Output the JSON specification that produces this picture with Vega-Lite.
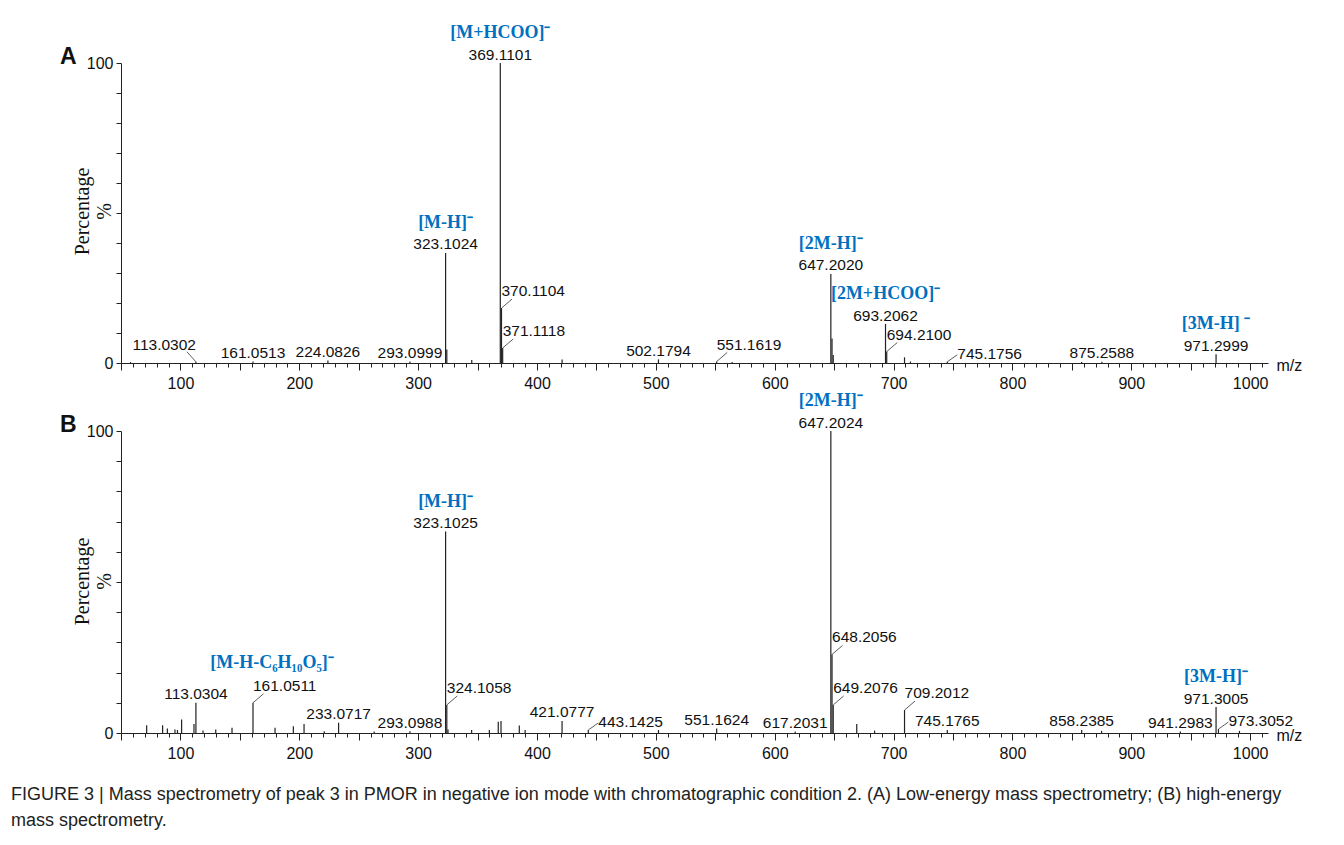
{
  "$schema": "https://vega.github.io/schema/vega-lite/v6.json",
  "padding": {"left": 11, "top": 24, "right": 5, "bottom": 5},
  "background": "white",
  "datasets": {
    "A": [
      {"mz": 58.0, "intensity": 0.3},
      {"mz": 113.0302, "intensity": 0.4, "label": "113.0302"},
      {"mz": 161.0513, "intensity": 0.5, "label": "161.0513"},
      {"mz": 224.0826, "intensity": 0.8, "label": "224.0826"},
      {"mz": 293.0999, "intensity": 0.5, "label": "293.0999"},
      {"mz": 323.1024, "intensity": 36.7, "label": "323.1024", "ion": "[M-H]⁻"},
      {"mz": 324.1058, "intensity": 4.5},
      {"mz": 345.1, "intensity": 1.0},
      {"mz": 369.1101, "intensity": 100, "label": "369.1101", "ion": "[M+HCOO]⁻"},
      {"mz": 370.1104, "intensity": 18.3, "label": "370.1104"},
      {"mz": 371.1118, "intensity": 5.0, "label": "371.1118"},
      {"mz": 421.1, "intensity": 1.2},
      {"mz": 502.1794, "intensity": 1.2, "label": "502.1794"},
      {"mz": 551.1619, "intensity": 0.5, "label": "551.1619"},
      {"mz": 564.2, "intensity": 0.3},
      {"mz": 647.202, "intensity": 29.7, "label": "647.2020", "ion": "[2M-H]⁻"},
      {"mz": 648.2, "intensity": 8.2},
      {"mz": 649.2, "intensity": 2.7},
      {"mz": 693.2062, "intensity": 13.0, "label": "693.2062", "ion": "[2M+HCOO]⁻"},
      {"mz": 694.21, "intensity": 3.8, "label": "694.2100"},
      {"mz": 709.2, "intensity": 1.9},
      {"mz": 714.2, "intensity": 0.5},
      {"mz": 745.1756, "intensity": 0.4, "label": "745.1756"},
      {"mz": 858.2, "intensity": 0.3},
      {"mz": 875.2588, "intensity": 0.4, "label": "875.2588"},
      {"mz": 971.2999, "intensity": 2.9, "label": "971.2999", "ion": "[3M-H] ⁻"}
    ],
    "B": [
      {"mz": 71.6, "intensity": 2.6},
      {"mz": 85.0, "intensity": 2.6},
      {"mz": 89.0, "intensity": 1.5},
      {"mz": 95.4, "intensity": 1.2},
      {"mz": 97.5, "intensity": 1.0},
      {"mz": 101.0, "intensity": 4.5},
      {"mz": 111.4, "intensity": 3.0},
      {"mz": 113.0304, "intensity": 10.0, "label": "113.0304"},
      {"mz": 119.0, "intensity": 0.8},
      {"mz": 129.7, "intensity": 1.2},
      {"mz": 143.4, "intensity": 1.7},
      {"mz": 161.0511, "intensity": 10.0, "label": "161.0511", "ion": "[M-H-C₆H₁₀O₅]⁻"},
      {"mz": 179.6, "intensity": 1.7},
      {"mz": 195.0, "intensity": 2.2},
      {"mz": 204.0, "intensity": 3.0},
      {"mz": 221.0, "intensity": 0.6},
      {"mz": 233.0717, "intensity": 3.4, "label": "233.0717"},
      {"mz": 263.0, "intensity": 0.5},
      {"mz": 293.0988, "intensity": 0.6, "label": "293.0988"},
      {"mz": 323.1025, "intensity": 66.7, "label": "323.1025", "ion": "[M-H]⁻"},
      {"mz": 324.1058, "intensity": 9.3, "label": "324.1058"},
      {"mz": 325.1, "intensity": 1.2},
      {"mz": 345.0, "intensity": 1.0},
      {"mz": 359.9, "intensity": 1.0},
      {"mz": 367.4, "intensity": 3.7},
      {"mz": 369.7, "intensity": 4.0},
      {"mz": 385.1, "intensity": 2.5},
      {"mz": 390.0, "intensity": 1.0},
      {"mz": 421.0777, "intensity": 4.0, "label": "421.0777"},
      {"mz": 443.1425, "intensity": 1.0, "label": "443.1425"},
      {"mz": 502.2, "intensity": 1.0},
      {"mz": 551.1624, "intensity": 1.5, "label": "551.1624"},
      {"mz": 617.2031, "intensity": 0.5, "label": "617.2031"},
      {"mz": 647.2024, "intensity": 100, "label": "647.2024", "ion": "[2M-H]⁻"},
      {"mz": 648.2056, "intensity": 26.0, "label": "648.2056"},
      {"mz": 649.2076, "intensity": 9.3, "label": "649.2076"},
      {"mz": 669.0, "intensity": 3.0},
      {"mz": 684.0, "intensity": 0.8},
      {"mz": 709.2012, "intensity": 7.6, "label": "709.2012"},
      {"mz": 745.1765, "intensity": 1.0, "label": "745.1765"},
      {"mz": 858.2385, "intensity": 1.0, "label": "858.2385"},
      {"mz": 875.0, "intensity": 0.7},
      {"mz": 941.2983, "intensity": 0.5, "label": "941.2983"},
      {"mz": 971.3005, "intensity": 8.6, "label": "971.3005", "ion": "[3M-H]⁻"},
      {"mz": 973.3052, "intensity": 1.3, "label": "973.3052"},
      {"mz": 991.0, "intensity": 0.7}
    ]
  },
  "title": {
    "text": ["FIGURE 3 | Mass spectrometry of peak 3 in PMOR in negative ion mode with chromatographic condition 2. (A) Low-energy mass spectrometry; (B) high-energy", "mass spectrometry."],
    "orient": "bottom", "anchor": "start", "frame": "bounds",
    "font": "Liberation Sans", "fontSize": 18, "fontWeight": "normal", "color": "#222",
    "lineHeight": 26, "dx": -49, "offset": 25
  },
  "bounds": "flush",
  "spacing": 68,
  "vconcat": [
    {
      "width": 1147, "height": 300,
      "data": {"name": "A"},
      "title": {"text": "A", "anchor": "start", "frame": "group", "orient": "top", "font": "Liberation Sans", "fontSize": 23, "fontWeight": "bold", "color": "#111", "dx": -61, "dy": 62, "baseline": "alphabetic", "offset": -1},
      "encoding": {
        "x": {"field": "mz", "type": "quantitative", "scale": {"domain": [50, 1015], "nice": false, "zero": false},
          "axis": {"values": [50,60,70,80,90,100,110,120,130,140,150,160,170,180,190,200,210,220,230,240,250,260,270,280,290,300,310,320,330,340,350,360,370,380,390,400,410,420,430,440,450,460,470,480,490,500,510,520,530,540,550,560,570,580,590,600,610,620,630,640,650,660,670,680,690,700,710,720,730,740,750,760,770,780,790,800,810,820,830,840,850,860,870,880,890,900,910,920,930,940,950,960,970,980,990,1000,1010],
            "format": "d",
            "labelExpr": "datum.value % 100 === 0 ? datum.label : ''",
            "tickSize": {"condition": {"test": "datum.value % 50 === 0", "value": 7}, "value": 4},
            "labelPadding": 5, "labelOverlap": false, "labelFlush": false,
            "title": "m/z", "titleX": 1155, "titleY": 2, "titleAlign": "left", "titleBaseline": "middle", "titleFontWeight": "normal", "titleFontSize": 16, "titleFont": "Liberation Sans", "titleColor": "#111"}},
        "y": {"field": "intensity", "type": "quantitative", "scale": {"domain": [0, 100], "nice": false},
          "axis": {"values": [0,10,20,30,40,50,60,70,80,90,100],
            "labelExpr": "datum.value === 0 || datum.value === 100 ? datum.label : ''",
            "tickSize": 5, "labelPadding": 3,
            "title": ["Percentage", "%"], "titleFont": "Liberation Serif", "titleFontSize": 20, "titleFontWeight": "normal", "titleColor": "#111",
            "titleLineHeight": 22, "titleX": -39, "titleY": 148, "titleAngle": -90, "titleAlign": "center", "titleBaseline": "middle"}}
      },
      "layer": [
        {"mark": {"type": "rule", "color": "#222", "strokeWidth": 1.2}, "encoding": {"y2": {"datum": 0}}},
        {"transform": [{"filter": {"field": "label", "oneOf": ["370.1104","371.1118","551.1619","694.2100","161.0511","324.1058","648.2056","649.2076","709.2012"]}}],
          "mark": {"type": "rule", "color": "#333", "strokeWidth": 0.8, "x2Offset": 10.5, "y2Offset": -9}, "encoding": {"x2": {"field": "mz"}, "y2": {"field": "intensity"}}},
        {"transform": [{"filter": {"field": "label", "oneOf": ["745.1756","443.1425","973.3052"]}}],
          "mark": {"type": "rule", "color": "#333", "strokeWidth": 0.8, "x2Offset": 10, "y2Offset": -7}, "encoding": {"x2": {"field": "mz"}, "y2": {"field": "intensity"}}},
        {"transform": [{"filter": {"field": "label", "oneOf": ["113.0302"]}}],
          "mark": {"type": "rule", "color": "#333", "strokeWidth": 0.8, "x2Offset": -9, "y2Offset": -10}, "encoding": {"x2": {"field": "mz"}, "y2": {"field": "intensity"}}},
        {"transform": [{"filter": "isValid(datum.label) && indexof(['370.1104','371.1118','551.1619','694.2100','161.0511','324.1058','648.2056','649.2076','709.2012','745.1756','443.1425','973.3052','113.0302'], datum.label) < 0"}],
          "mark": {"type": "text", "align": "center", "baseline": "alphabetic", "dy": -3.5, "font": "Liberation Sans", "fontSize": 15.5, "color": "#111"}, "encoding": {"text": {"field": "label", "type": "nominal"}}},
        {"transform": [{"filter": {"field": "label", "oneOf": ["370.1104","371.1118","551.1619","694.2100","161.0511","324.1058","648.2056","649.2076","709.2012"]}}],
          "mark": {"type": "text", "align": "left", "baseline": "alphabetic", "dx": 0, "dy": -12, "font": "Liberation Sans", "fontSize": 15.5, "color": "#111"}, "encoding": {"text": {"field": "label", "type": "nominal"}}},
        {"transform": [{"filter": {"field": "label", "oneOf": ["745.1756","443.1425","973.3052"]}}],
          "mark": {"type": "text", "align": "left", "baseline": "alphabetic", "dx": 10, "dy": -3, "font": "Liberation Sans", "fontSize": 15.5, "color": "#111"}, "encoding": {"text": {"field": "label", "type": "nominal"}}},
        {"transform": [{"filter": {"field": "label", "oneOf": ["113.0302"]}}],
          "mark": {"type": "text", "align": "right", "baseline": "alphabetic", "dx": 0, "dy": -12, "font": "Liberation Sans", "fontSize": 15.5, "color": "#111"}, "encoding": {"text": {"field": "label", "type": "nominal"}}},
        {"transform": [{"filter": "isValid(datum.ion) && datum.label !== '161.0511'"}],
          "mark": {"type": "text", "align": "center", "baseline": "alphabetic", "dy": -25, "font": "Liberation Serif", "fontSize": 18, "fontWeight": "bold", "color": "#0070c0"}, "encoding": {"text": {"field": "ion", "type": "nominal"}}},
        {"transform": [{"filter": "datum.label === '161.0511'"}],
          "mark": {"type": "text", "align": "center", "baseline": "alphabetic", "dx": 19, "dy": -35, "font": "Liberation Serif", "fontSize": 18, "fontWeight": "bold", "color": "#0070c0"}, "encoding": {"text": {"field": "ion", "type": "nominal"}}}
      ]
    },
    {
      "width": 1147, "height": 302,
      "data": {"name": "B"},
      "title": {"text": "B", "anchor": "start", "frame": "group", "orient": "top", "font": "Liberation Sans", "fontSize": 23, "fontWeight": "bold", "color": "#111", "dx": -61, "dy": 61.5, "baseline": "alphabetic", "offset": -1.5},
      "encoding": {
        "x": {"field": "mz", "type": "quantitative", "scale": {"domain": [50, 1015], "nice": false, "zero": false},
          "axis": {"values": [50,60,70,80,90,100,110,120,130,140,150,160,170,180,190,200,210,220,230,240,250,260,270,280,290,300,310,320,330,340,350,360,370,380,390,400,410,420,430,440,450,460,470,480,490,500,510,520,530,540,550,560,570,580,590,600,610,620,630,640,650,660,670,680,690,700,710,720,730,740,750,760,770,780,790,800,810,820,830,840,850,860,870,880,890,900,910,920,930,940,950,960,970,980,990,1000,1010],
            "format": "d",
            "labelExpr": "datum.value % 100 === 0 ? datum.label : ''",
            "tickSize": {"condition": {"test": "datum.value % 50 === 0", "value": 7}, "value": 4},
            "labelPadding": 5, "labelOverlap": false, "labelFlush": false,
            "title": "m/z", "titleX": 1155, "titleY": 2, "titleAlign": "left", "titleBaseline": "middle", "titleFontWeight": "normal", "titleFontSize": 16, "titleFont": "Liberation Sans", "titleColor": "#111"}},
        "y": {"field": "intensity", "type": "quantitative", "scale": {"domain": [0, 100], "nice": false},
          "axis": {"values": [0,10,20,30,40,50,60,70,80,90,100],
            "labelExpr": "datum.value === 0 || datum.value === 100 ? datum.label : ''",
            "tickSize": 5, "labelPadding": 3,
            "title": ["Percentage", "%"], "titleFont": "Liberation Serif", "titleFontSize": 20, "titleFontWeight": "normal", "titleColor": "#111",
            "titleLineHeight": 22, "titleX": -39, "titleY": 150, "titleAngle": -90, "titleAlign": "center", "titleBaseline": "middle"}}
      },
      "layer": [
        {"mark": {"type": "rule", "color": "#222", "strokeWidth": 1.2}, "encoding": {"y2": {"datum": 0}}},
        {"transform": [{"filter": {"field": "label", "oneOf": ["370.1104","371.1118","551.1619","694.2100","161.0511","324.1058","648.2056","649.2076","709.2012"]}}],
          "mark": {"type": "rule", "color": "#333", "strokeWidth": 0.8, "x2Offset": 10.5, "y2Offset": -9}, "encoding": {"x2": {"field": "mz"}, "y2": {"field": "intensity"}}},
        {"transform": [{"filter": {"field": "label", "oneOf": ["745.1756","443.1425","973.3052"]}}],
          "mark": {"type": "rule", "color": "#333", "strokeWidth": 0.8, "x2Offset": 10, "y2Offset": -7}, "encoding": {"x2": {"field": "mz"}, "y2": {"field": "intensity"}}},
        {"transform": [{"filter": "isValid(datum.label) && indexof(['370.1104','371.1118','551.1619','694.2100','161.0511','324.1058','648.2056','649.2076','709.2012','745.1756','443.1425','973.3052','113.0302'], datum.label) < 0"}],
          "mark": {"type": "text", "align": "center", "baseline": "alphabetic", "dy": -3.5, "font": "Liberation Sans", "fontSize": 15.5, "color": "#111"}, "encoding": {"text": {"field": "label", "type": "nominal"}}},
        {"transform": [{"filter": {"field": "label", "oneOf": ["370.1104","371.1118","551.1619","694.2100","161.0511","324.1058","648.2056","649.2076","709.2012"]}}],
          "mark": {"type": "text", "align": "left", "baseline": "alphabetic", "dx": 0, "dy": -12, "font": "Liberation Sans", "fontSize": 15.5, "color": "#111"}, "encoding": {"text": {"field": "label", "type": "nominal"}}},
        {"transform": [{"filter": {"field": "label", "oneOf": ["745.1756","443.1425","973.3052"]}}],
          "mark": {"type": "text", "align": "left", "baseline": "alphabetic", "dx": 10, "dy": -3, "font": "Liberation Sans", "fontSize": 15.5, "color": "#111"}, "encoding": {"text": {"field": "label", "type": "nominal"}}},
        {"transform": [{"filter": "isValid(datum.ion) && datum.label !== '161.0511'"}],
          "mark": {"type": "text", "align": "center", "baseline": "alphabetic", "dy": -25, "font": "Liberation Serif", "fontSize": 18, "fontWeight": "bold", "color": "#0070c0"}, "encoding": {"text": {"field": "ion", "type": "nominal"}}},
        {"transform": [{"filter": "datum.label === '161.0511'"}],
          "mark": {"type": "text", "align": "center", "baseline": "alphabetic", "dx": 19, "dy": -35, "font": "Liberation Serif", "fontSize": 18, "fontWeight": "bold", "color": "#0070c0"}, "encoding": {"text": {"field": "ion", "type": "nominal"}}}
      ]
    }
  ],
  "config": {
    "view": {"stroke": null},
    "font": "Liberation Sans",
    "axis": {"grid": false, "domainColor": "#222", "tickColor": "#222", "labelFont": "Liberation Sans", "labelFontSize": 16, "labelColor": "#111", "domainWidth": 1, "tickWidth": 1}
  }
}
